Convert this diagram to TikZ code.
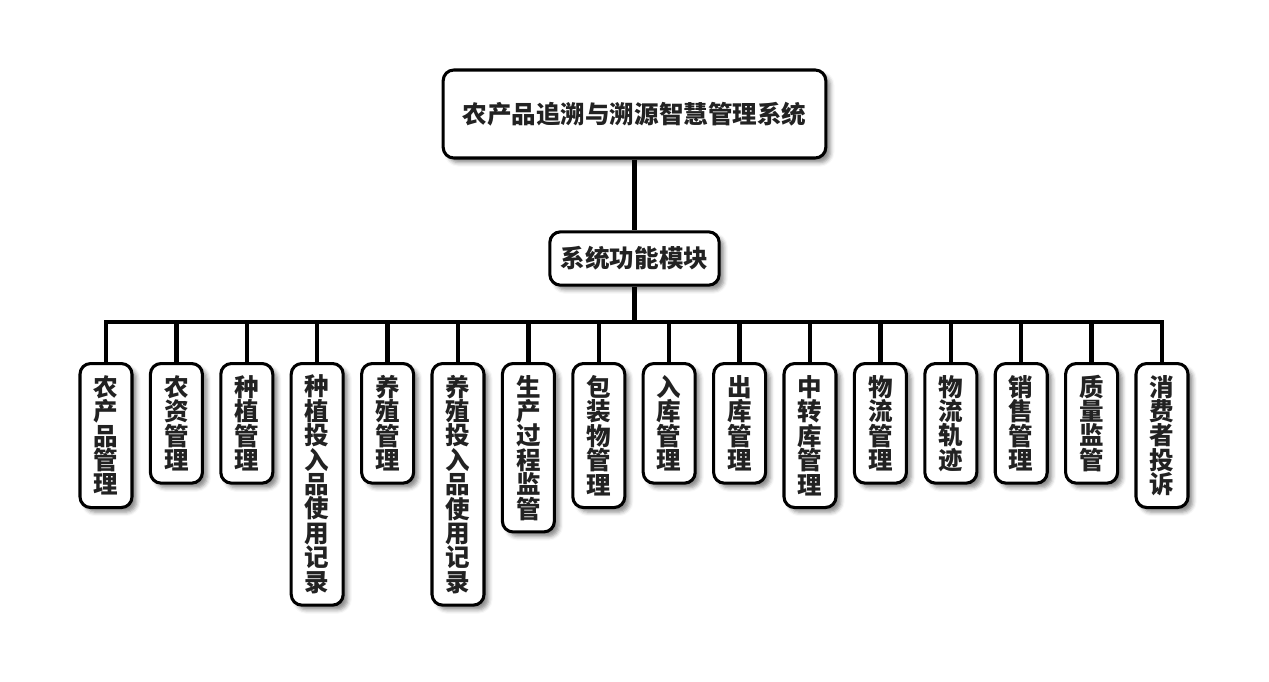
\documentclass[tikz,border=0pt]{standalone}
\usepackage{fontspec}
\newfontfamily\cjk{Noto Sans CJK SC}
\usetikzlibrary{shadows.blur}
\definecolor{txt}{HTML}{222222}
\tikzset{
  box/.style={draw=black, line width=2.3pt, rounded corners=8pt, fill=white,
    text=txt, font=\cjk\bfseries\fontsize{18.4pt}{18.3pt}\selectfont, align=center,
    blur shadow={shadow xshift=3.5pt, shadow yshift=-3.5pt, shadow blur radius=3pt, shadow opacity=45}},
  child/.style={box, anchor=north, minimum width=39pt, inner sep=0pt},
  conn/.style={line width=3.4pt, line join=miter}
}
\newcommand{\kid}[4]{\node[child, minimum height={18.3pt*#3+16.5pt}] (#1) at (#2,362) {#4};}
\begin{document}
\begin{tikzpicture}[x=0.75pt,y=-0.75pt]
\useasboundingbox (0,0) rectangle (1269,681);
\node[box, minimum width=287pt, minimum height=66pt] (top) at (634.5,114) {农产品追溯与溯源智慧管理系统};
\node[box, minimum width=127pt, minimum height=40pt, inner sep=0pt] (mid) at (634.5,258.5) {系统功能模块};
\coordinate (bus) at (634.5,322);
\kid{c1}{106}{5}{农\\产\\品\\管\\理}
\kid{c2}{176.4}{4}{农\\资\\管\\理}
\kid{c3}{246.8}{4}{种\\植\\管\\理}
\kid{c4}{317.2}{9}{种\\植\\投\\入\\品\\使\\用\\记\\录}
\kid{c5}{387.6}{4}{养\\殖\\管\\理}
\kid{c6}{458}{9}{养\\殖\\投\\入\\品\\使\\用\\记\\录}
\kid{c7}{528.4}{6}{生\\产\\过\\程\\监\\管}
\kid{c8}{598.8}{5}{包\\装\\物\\管\\理}
\kid{c9}{669.2}{4}{入\\库\\管\\理}
\kid{c10}{739.6}{4}{出\\库\\管\\理}
\kid{c11}{810}{5}{中\\转\\库\\管\\理}
\kid{c12}{880.4}{4}{物\\流\\管\\理}
\kid{c13}{950.8}{4}{物\\流\\轨\\迹}
\kid{c14}{1021.2}{4}{销\\售\\管\\理}
\kid{c15}{1091.6}{4}{质\\量\\监\\管}
\kid{c16}{1162}{5}{消\\费\\者\\投\\诉}
\draw[conn] (top.south) -- (mid.north);
\draw[conn] (mid.south) -- (bus);
\draw[conn] (c1.north) |- (bus) -| (c16.north);
\foreach \i in {2,...,15} {\draw[conn] (c\i.north) -- (c\i.north |- bus);}
\end{tikzpicture}
\end{document}
